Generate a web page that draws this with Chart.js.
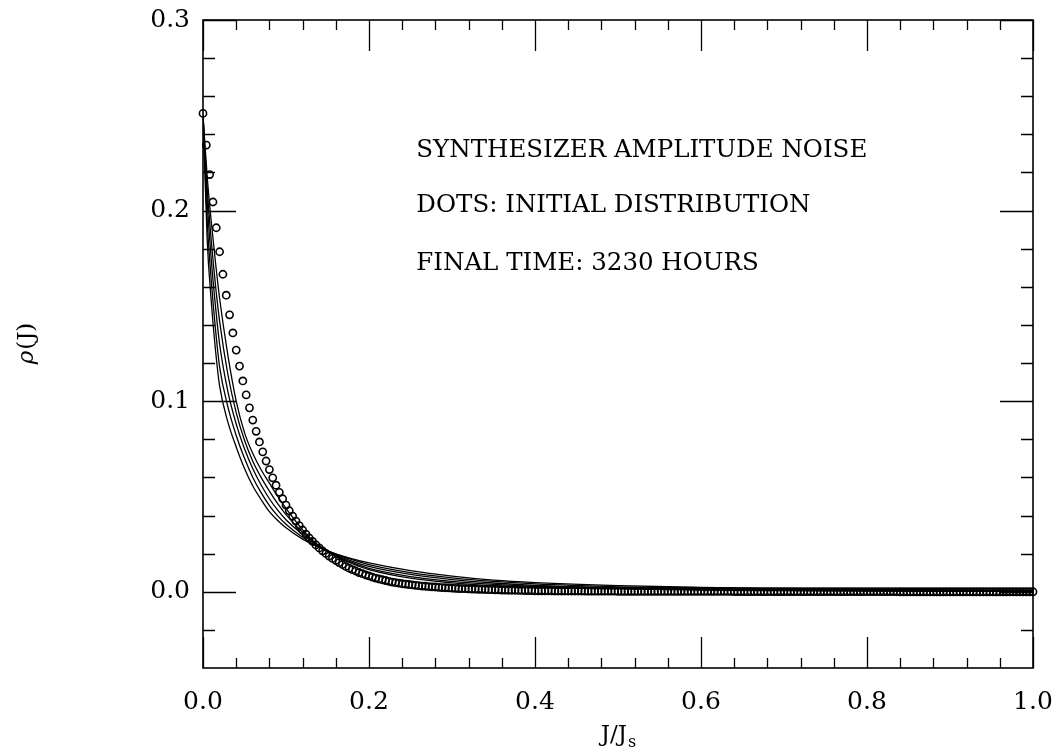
<!DOCTYPE html>
<html>
<head>
<meta charset="utf-8">
<script src="https://cdn.jsdelivr.net/npm/chart.js@4/dist/chart.umd.min.js"></script>
<style>
  html, body { margin: 0; padding: 0; background: #fff; }
  canvas { display: block; }
</style>
</head>
<body>
<canvas id="chart" width="1060" height="752"></canvas>
<script>
'use strict';

// J/Js grid of the initial distribution (dots)
const dotJ = [
  0, .004, .008, .012, .016, .02, .024, .028, .032, .036, .04, .044, .048, .052, .056, .06, .064, .068, .072, .076, .08, .084, .088, .092, .096,
  .1, .104, .108, .112, .116, .12, .124, .128, .132, .136, .14, .144, .148, .152, .156, .16, .164, .168, .172, .176, .18, .184, .188, .192, .196,
  .2, .204, .208, .212, .216, .22, .224, .228, .232, .236, .24, .244, .248, .252, .256, .26, .264, .268, .272, .276, .28, .284, .288, .292, .296,
  .3, .304, .308, .312, .316, .32, .324, .328, .332, .336, .34, .344, .348, .352, .356, .36, .364, .368, .372, .376, .38, .384, .388, .392, .396,
  .4, .404, .408, .412, .416, .42, .424, .428, .432, .436, .44, .444, .448, .452, .456, .46, .464, .468, .472, .476, .48, .484, .488, .492, .496,
  .5, .504, .508, .512, .516, .52, .524, .528, .532, .536, .54, .544, .548, .552, .556, .56, .564, .568, .572, .576, .58, .584, .588, .592, .596,
  .6, .604, .608, .612, .616, .62, .624, .628, .632, .636, .64, .644, .648, .652, .656, .66, .664, .668, .672, .676, .68, .684, .688, .692, .696,
  .7, .704, .708, .712, .716, .72, .724, .728, .732, .736, .74, .744, .748, .752, .756, .76, .764, .768, .772, .776, .78, .784, .788, .792, .796,
  .8, .804, .808, .812, .816, .82, .824, .828, .832, .836, .84, .844, .848, .852, .856, .86, .864, .868, .872, .876, .88, .884, .888, .892, .896,
  .9, .904, .908, .912, .916, .92, .924, .928, .932, .936, .94, .944, .948, .952, .956, .96, .964, .968, .972, .976, .98, .984, .988, .992, .996,
  1.0
];
const dotRho = [
  .2510, .2344, .2189, .2045, .1910, .1784, .1666, .1556, .1453, .1358, .1268, .1184, .1106, .1033, .0965, .0901, .0842, .0786, .0734, .0686, .0641, .0598, .0559, .0522, .0488,
  .0455, .0425, .0397, .0371, .0347, .0324, .0302, .0282, .0264, .0246, .0230, .0215, .0201, .0187, .0175, .0164, .0153, .0143, .0133, .0124, .0116, .0109, .0101, .0095, .0088,
  .0083, .0077, .0072, .0067, .0063, .0059, .0055, .0051, .0048, .0045, .0042, .0040, .0038, .0036, .0034, .0032, .0030, .0029, .0027, .0026, .0025, .0023, .0022, .0021, .0020,
  .0019, .0018, .0017, .0016, .0016, .0015, .0014, .0014, .0013, .0013, .0012, .0011, .0011, .0010, .0010, .0009, .0009, .0008, .0008, .0008, .0007, .0007, .0006, .0006, .0006,
  .0005, .0005, .0005, .0005, .0005, .0005, .0004, .0004, .0004, .0004, .0004, .0004, .0004, .0004, .0004, .0003, .0003, .0003, .0003, .0003, .0003, .0003, .0003, .0003, .0003,
  .0002, .0002, .0002, .0002, .0002, .0002, .0002, .0002, .0002, .0002, .0002, .0002, .0002, .0002, .0002, .0002, .0002, .0002, .0002, .0002, .0002, .0002, .0002, .0002, .0002,
  .0002, .0002, .0002, .0002, .0002, .0002, .0002, .0002, .0002, .0002, .0001, .0001, .0001, .0001, .0001, .0001, .0001, .0001, .0001, .0001, .0001, .0001, .0001, .0001, .0001,
  .0001, .0001, .0001, .0001, .0001, .0001, .0001, .0001, .0001, .0001, .0001, .0001, .0001, .0001, .0001, .0001, .0001, .0001, .0001, .0001, .0001, .0001, .0001, .0001, .0001,
  .0001, .0001, .0001, .0001, .0001, .0001, .0001, .0001, .0001, .0001, 0, 0, 0, 0, 0, 0, 0, 0, 0, 0, 0, 0, 0, 0, 0,
  0, 0, 0, 0, 0, 0, 0, 0, 0, 0, 0, 0, 0, 0, 0, 0, 0, 0, 0, 0, 0, 0, 0, 0, 0,
  0
];

// evolved distributions (solid curves)
const curveJ = [0, .005, .01, .015, .02, .03, .04, .05, .06, .07, .08, .09, .10, .12, .14, .16, .18, .20, .25, .30, .35, .40, .50, .60, .70, .80, .90, 1.0];
const rhoA = [.250, .185, .152, .127, .108, .089, .076, .0647, .0555, .0484, .0420, .0374, .0336, .0276, .0232, .0199, .0173, .0152, .0111, .0082, .0061, .0048, .0032, .0023, .0017, .0012, .0009, .0007];
const rhoB = [.250, .195, .163, .138, .118, .097, .082, .0700, .0600, .0520, .0452, .0398, .0354, .0286, .0235, .0198, .0168, .0142, .0100, .0073, .0054, .0041, .0026, .0018, .0013, .0009, .0007, .0005];
const rhoC = [.250, .205, .174, .150, .130, .105, .088, .0750, .0645, .0560, .0488, .0428, .0378, .0300, .0237, .0195, .0160, .0133, .0091, .0064, .0046, .0034, .0021, .0014, .0010, .0007, .0005, .0004];
const rhoD = [.250, .212, .184, .161, .142, .114, .094, .0795, .0685, .0600, .0528, .0462, .0405, .0312, .0238, .0190, .0153, .0123, .0080, .0055, .0039, .0029, .0018, .0011, .0008, .0006, .0004, .0003];
const rhoE = [.250, .218, .194, .173, .154, .124, .100, .0835, .0725, .0640, .0570, .0500, .0437, .0325, .0240, .0187, .0147, .0116, .0071, .0047, .0032, .0024, .0015, .0009, .0006, .0004, .0003, .0002];

// ticks
const xMajor = [0, 0.2, 0.4, 0.6, 0.8, 1.0];
const xMinor = [.04, .08, .12, .16, .24, .28, .32, .36, .44, .48, .52, .56, .64, .68, .72, .76, .84, .88, .92, .96];
const yMajor = [0.0, 0.1, 0.2, 0.3];
const yMinor = [-.02, .02, .04, .06, .08, .12, .14, .16, .18, .22, .24, .26, .28];

const notes = ['SYNTHESIZER AMPLITUDE NOISE', 'DOTS: INITIAL DISTRIBUTION', 'FINAL TIME: 3230 HOURS'];

const SERIF = '"DejaVu Serif", serif';

function pts(xs, ys) {
  return xs.map((v, i) => ({ x: v, y: ys[i] }));
}

function curve(ys) {
  return {
    data: pts(curveJ, ys),
    borderColor: '#000',
    borderWidth: 1.3,
    pointRadius: 0,
    fill: false,
    cubicInterpolationMode: 'monotone'
  };
}

// frame with inward ticks on all four sides, notes and axis titles
const paperAxes = {
  id: 'paperAxes',
  afterDatasetsDraw(chart) {
    const ctx = chart.ctx;
    const a = chart.chartArea;
    const x = chart.scales.x;
    const y = chart.scales.y;
    ctx.save();
    ctx.strokeStyle = '#000';
    ctx.lineWidth = 1.6;
    ctx.strokeRect(a.left, a.top, a.right - a.left, a.bottom - a.top);

    ctx.lineWidth = 1.3;
    ctx.beginPath();
    const xt = (v, len) => {
      const px = Math.round(x.getPixelForValue(v)) + 0.5;
      ctx.moveTo(px, a.bottom); ctx.lineTo(px, a.bottom - len);
      ctx.moveTo(px, a.top); ctx.lineTo(px, a.top + len);
    };
    const yt = (v, len) => {
      const py = Math.round(y.getPixelForValue(v)) + 0.5;
      ctx.moveTo(a.left, py); ctx.lineTo(a.left + len, py);
      ctx.moveTo(a.right, py); ctx.lineTo(a.right - len, py);
    };
    xMajor.forEach(v => xt(v, 31));
    xMinor.forEach(v => xt(v, 10));
    yMajor.forEach(v => yt(v, 33));
    yMinor.forEach(v => yt(v, 12));
    ctx.stroke();

    // annotation
    ctx.fillStyle = '#000';
    ctx.font = '24.5px ' + SERIF;
    ctx.textAlign = 'left';
    ctx.textBaseline = 'alphabetic';
    const nx = x.getPixelForValue(0.257);
    [0.228, 0.199, 0.169].forEach((v, i) => {
      ctx.fillText(notes[i], nx, y.getPixelForValue(v));
    });

    // x title J/Js
    ctx.font = '23px ' + SERIF;
    const main = 'J/J';
    const wMain = ctx.measureText(main).width;
    ctx.font = '16px ' + SERIF;
    const wSub = ctx.measureText('s').width;
    const cx = (a.left + a.right) / 2;
    const start = cx - (wMain + wSub) / 2;
    ctx.font = '23px ' + SERIF;
    ctx.fillText(main, start, 741);
    ctx.font = '16px ' + SERIF;
    ctx.fillText('s', start + wMain + 1, 747);

    // y title rho(J)
    ctx.translate(33, (a.top + a.bottom) / 2);
    ctx.rotate(-Math.PI / 2);
    ctx.font = 'italic 23px ' + SERIF;
    const wRho = ctx.measureText('ρ').width;
    ctx.font = '23px ' + SERIF;
    const wRest = ctx.measureText('(J)').width;
    const s0 = -(wRho + wRest) / 2;
    ctx.font = 'italic 23px ' + SERIF;
    ctx.fillText('ρ', s0, 0);
    ctx.font = '23px ' + SERIF;
    ctx.fillText('(J)', s0 + wRho + 1, 0);
    ctx.restore();
  }
};

new Chart(document.getElementById('chart'), {
  type: 'line',
  data: {
    datasets: [
      curve(rhoA), curve(rhoB), curve(rhoC), curve(rhoD), curve(rhoE),
      {
        data: pts(dotJ, dotRho),
        showLine: false,
        pointStyle: 'circle',
        pointRadius: 3.6,
        pointBorderWidth: 1.6,
        pointBorderColor: '#000',
        pointBackgroundColor: 'rgba(0,0,0,0)',
        clip: 6
      }
    ]
  },
  options: {
    responsive: false,
    animation: false,
    layout: { padding: { top: 20, right: 27, left: 0, bottom: 0 } },
    plugins: { legend: { display: false }, tooltip: { enabled: false } },
    scales: {
      x: {
        type: 'linear',
        min: 0,
        max: 1,
        grid: { display: false, drawTicks: false },
        border: { display: false },
        afterBuildTicks: s => { s.ticks = xMajor.map(v => ({ value: v })); },
        afterFit: s => { s.height = 84; s.paddingLeft = 0; s.paddingRight = 0; },
        ticks: {
          padding: 19,
          color: '#000',
          font: { family: SERIF, size: 25 },
          callback: v => Number(v).toFixed(1)
        }
      },
      y: {
        type: 'linear',
        min: -0.04,
        max: 0.3,
        grid: { display: false, drawTicks: false },
        border: { display: false },
        afterBuildTicks: s => { s.ticks = yMajor.map(v => ({ value: v })); },
        afterFit: s => { s.width = 203; s.paddingTop = 0; s.paddingBottom = 0; },
        ticks: {
          padding: 13,
          color: '#000',
          font: { family: SERIF, size: 25 },
          callback: v => Number(v).toFixed(1)
        }
      }
    }
  },
  plugins: [paperAxes]
});
</script>
</body>
</html>
